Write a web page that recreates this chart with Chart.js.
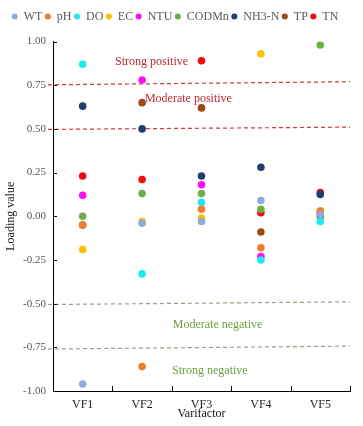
<!DOCTYPE html>
<html>
<head>
<meta charset="utf-8">
<script src="https://cdn.jsdelivr.net/npm/chart.js@4.4.1/dist/chart.umd.min.js"></script>
<style>
  html, body { margin: 0; padding: 0; background: #fff; }
  #wrap { width: 363px; height: 426px; }
</style>
</head>
<body>
<div id="wrap"><canvas id="chart"></canvas></div>
<script>
// loading values per variable factor
const factors = ['VF1', 'VF2', 'VF3', 'VF4', 'VF5'];

const WT    = [-0.96, -0.04, -0.03,  0.09,  0.01];
const pH    = [-0.05, -0.86,  0.04, -0.18,  0.03];
const DO    = [ 0.87, -0.33,  0.08, -0.25, -0.03];
const EC    = [-0.19, -0.03, -0.01,  0.93,  0.03];
const NTU   = [ 0.12,  0.78,  0.18, -0.23,  0.02];
const CODMn = [ 0.00,  0.13,  0.13,  0.04,  0.98];
const NH3N  = [ 0.63,  0.50,  0.23,  0.28,  0.125];
const TP    = [-0.05,  0.65,  0.62, -0.09,  0.00];
const TN    = [ 0.23,  0.21,  0.89,  0.02,  0.135];

// threshold lines (value at left end, value at right end)
const refLeft  = [0.752, 0.497, -0.505, -0.76];
const refRight = [0.77,  0.51,  -0.49,  -0.743];
const refKind  = ['pos', 'pos', 'neg', 'neg'];

const zoneText = ['Strong positive', 'Moderate positive', 'Moderate negative', 'Strong negative'];
const zoneAt   = [1.16, 1.78, 2.27, 2.14];   // category index of text centre
const zoneVal  = [0.886, 0.67, -0.623, -0.886];

const SERIF = '"Liberation Serif", "DejaVu Serif", serif';
const RED = '#d03a46', GREEN = '#8fa884';

function ds(label, data, color) {
  return {
    label, data,
    showLine: false,
    backgroundColor: color,
    borderColor: color,
    pointRadius: 3.8,
    pointHoverRadius: 3.8,
    pointBorderWidth: 0,
    pointStyle: 'circle'
  };
}

// extra room under the legend
const legendGap = {
  id: 'legendGap',
  beforeInit(chart) {
    const fit = chart.legend.fit;
    chart.legend.fit = function () {
      fit.bind(chart.legend)();
      this.height += 9;
    };
  }
};

const decor = {
  id: 'decor',
  beforeDatasetsDraw(chart) {
    const { ctx, chartArea: a, scales: { x, y } } = chart;
    ctx.save();
    // dashed thresholds
    ctx.lineWidth = 1.2;
    ctx.setLineDash([4, 3]);
    refLeft.forEach((v, i) => {
      ctx.strokeStyle = refKind[i] === 'pos' ? RED : GREEN;
      ctx.beginPath();
      ctx.moveTo(a.left - 5, y.getPixelForValue(v));
      ctx.lineTo(a.right, y.getPixelForValue(refRight[i]));
      ctx.stroke();
    });
    ctx.setLineDash([]);
    ctx.lineWidth = 1;
    // zone labels
    ctx.font = '12px ' + SERIF;
    ctx.textAlign = 'center';
    ctx.textBaseline = 'middle';
    const step = x.getPixelForValue(1) - x.getPixelForValue(0);
    zoneText.forEach((t, i) => {
      ctx.fillStyle = zoneVal[i] > 0 ? '#c0282e' : '#6f9e48';
      ctx.fillText(t, x.getPixelForValue(0) + zoneAt[i] * step, y.getPixelForValue(zoneVal[i]));
    });
    // inward ticks
    ctx.strokeStyle = '#000';
    ctx.beginPath();
    y.ticks.forEach(t => {
      const py = Math.round(y.getPixelForValue(t.value)) + 0.5;
      ctx.moveTo(a.left, py);
      ctx.lineTo(a.left + 4, py);
    });
    factors.forEach((f, i) => {
      const px = Math.round(x.getPixelForValue(i) + step / 2) + 0.5;
      ctx.moveTo(px, a.bottom);
      ctx.lineTo(px, a.bottom - 5);
    });
    ctx.stroke();
    ctx.restore();
  }
};

new Chart(document.getElementById('chart'), {
  type: 'line',
  data: {
    labels: factors,
    datasets: [
      ds('WT', WT, '#8faadc'),
      ds('pH', pH, '#ed7d31'),
      ds('DO', DO, '#1ee8f2'),
      ds('EC', EC, '#ffc000'),
      ds('NTU', NTU, '#ff10f0'),
      ds('CODMn', CODMn, '#70ad47'),
      ds('NH3-N', NH3N, '#203f6e'),
      ds('TP', TP, '#9e4a14'),
      ds('TN', TN, '#f20c0c')
    ]
  },
  options: {
    responsive: true,
    maintainAspectRatio: false,
    animation: false,
    layout: { padding: { top: 8, right: 13, left: 0, bottom: 0 } },
    plugins: {
      legend: {
        position: 'top',
        labels: {
          usePointStyle: true,
          boxWidth: 6,
          boxHeight: 4.3,
          padding: 2.5,
          color: '#595959',
          font: { family: SERIF, size: 12 }
        }
      },
      tooltip: { enabled: false }
    },
    scales: {
      x: {
        offset: true,
        grid: { display: false, drawTicks: false },
        border: { display: true, color: '#000', width: 1 },
        ticks: { color: '#262626', padding: 7, font: { family: SERIF, size: 12 } },
        title: {
          display: true, text: 'Varifactor', color: '#111',
          font: { family: SERIF, size: 12 }, padding: { top: 0, bottom: 5 }
        },
        afterFit(s) { s.height = 35; }
      },
      y: {
        min: -1, max: 1,
        grid: { display: false, drawTicks: false },
        border: { display: true, color: '#000', width: 1 },
        ticks: {
          stepSize: 0.25, color: '#595959', padding: 7,
          font: { family: SERIF, size: 11 },
          callback: v => v.toFixed(2)
        },
        title: {
          display: true, text: 'Loading value', color: '#222',
          font: { family: SERIF, size: 12 }, padding: { top: 4, bottom: 0 }
        },
        afterFit(s) { s.width = 53; }
      }
    }
  },
  plugins: [legendGap, decor]
});
</script>
</body>
</html>
